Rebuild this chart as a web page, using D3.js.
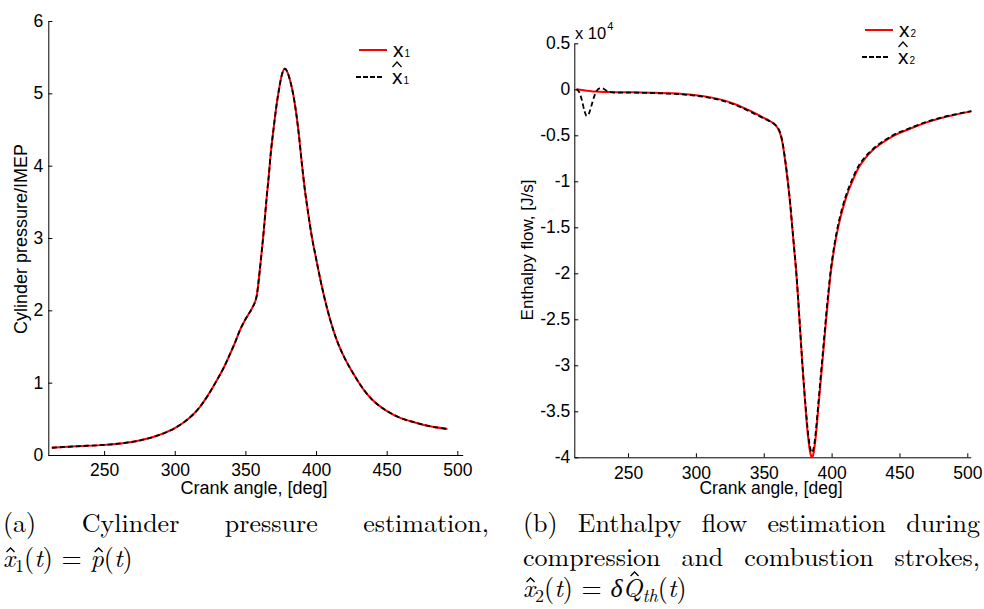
<!DOCTYPE html>
<html><head><meta charset="utf-8">
<script src="https://cdn.jsdelivr.net/npm/d3@7"></script>
<style>
body{margin:0;background:#fff}
svg text{font-family:Arial,"Liberation Sans",sans-serif;fill:#000}
.cap{font-family:"Latin Modern Roman","CMU Serif","Liberation Serif","DejaVu Serif",serif;font-size:26px}
</style>
</head><body>
<svg id="c" width="984" height="609"></svg>
<script>
// ---------- data: (a) cylinder pressure / IMEP ----------
const anglesA = [213,230,250,262,275,288,300,307,313,318,323,330,335,339,343,346,349,352,355,358,360,361.5,363,365,366.5,368,370,372,374,376,378,380,382,384,386,388,390,392,394,397,400,403,406,410,415,420,425,430,435,440,450,460,470,480,493];
const x1True = [0.10,0.12,0.14,0.16,0.20,0.27,0.37,0.46,0.56,0.67,0.81,1.04,1.22,1.39,1.57,1.72,1.84,1.94,2.04,2.20,2.52,2.80,3.10,3.55,3.85,4.18,4.52,4.83,5.08,5.27,5.34,5.28,5.15,4.97,4.72,4.40,4.02,3.68,3.40,3.02,2.72,2.43,2.17,1.87,1.57,1.35,1.17,1.01,0.87,0.76,0.61,0.51,0.45,0.40,0.36];
const x1Est  = [0.10,0.12,0.14,0.16,0.20,0.27,0.37,0.46,0.56,0.67,0.81,1.04,1.22,1.39,1.57,1.72,1.84,1.94,2.04,2.20,2.52,2.80,3.10,3.55,3.85,4.18,4.52,4.83,5.08,5.27,5.34,5.28,5.15,4.97,4.72,4.40,4.02,3.68,3.40,3.02,2.72,2.43,2.17,1.87,1.57,1.35,1.17,1.01,0.87,0.76,0.61,0.51,0.45,0.40,0.36];
const xTicksA = [250,300,350,400,450,500];
const yTicksA = [0,1,2,3,4,5,6];

// ---------- data: (b) enthalpy flow (x 1e4 J/s) ----------
const anglesB = [212,216,220,226,232,240,250,260,270,280,290,300,310,320,330,340,345,350,355,358,360,361,362.5,364,366,367.7,369.5,371,372.5,374,375.2,376.3,377.4,378.5,379.8,381,382,383,384,385,385.6,386.3,387,388,389,390,391.5,393,394.5,396,397.7,399.4,401,402.5,405,407.5,410,412.5,415,420,425,430,435,440,447,455,460,470,480,490,503];
const x2True = [0,-0.008,-0.015,-0.025,-0.03,-0.031,-0.032,-0.034,-0.038,-0.043,-0.05,-0.064,-0.085,-0.118,-0.168,-0.235,-0.27,-0.31,-0.35,-0.38,-0.415,-0.44,-0.5,-0.6,-0.8,-1.0,-1.25,-1.5,-1.75,-2.0,-2.25,-2.5,-2.75,-3.0,-3.27,-3.5,-3.68,-3.82,-3.93,-3.99,-4.0,-3.98,-3.93,-3.82,-3.67,-3.5,-3.25,-3.0,-2.75,-2.5,-2.23,-1.99,-1.82,-1.68,-1.49,-1.34,-1.21,-1.10,-1.01,-0.85,-0.745,-0.665,-0.605,-0.555,-0.495,-0.445,-0.415,-0.36,-0.315,-0.28,-0.24];
const anglesBEst = [212,214,216,218,219.5,221,223,225,227,229,231,233,236,240,250,260,270,280,290,300,310,320,330,340,345,350,355,358,360,361,362.5,364,366,367.7,369.5,371,372.5,374,375.2,376.3,377.4,378.5,379.8,381,382,383,384,385,385.6,386.3,387,388,389,390,391.5,393,394.5,396,397.7,399.4,401,402.5,405,407.5,410,412.5,415,420,425,430,435,440,447,455,460,470,480,490,503];
const x2Est = [0,-0.03,-0.12,-0.24,-0.29,-0.27,-0.18,-0.08,-0.015,0.01,0.012,-0.005,-0.03,-0.035,-0.036,-0.038,-0.042,-0.048,-0.056,-0.07,-0.092,-0.126,-0.176,-0.243,-0.28,-0.315,-0.352,-0.38,-0.41,-0.435,-0.49,-0.59,-0.79,-0.99,-1.24,-1.49,-1.74,-1.99,-2.24,-2.49,-2.74,-2.99,-3.25,-3.47,-3.64,-3.78,-3.88,-3.94,-3.95,-3.93,-3.88,-3.77,-3.62,-3.45,-3.2,-2.95,-2.7,-2.45,-2.19,-1.96,-1.79,-1.65,-1.46,-1.31,-1.18,-1.075,-0.985,-0.83,-0.73,-0.655,-0.595,-0.545,-0.485,-0.438,-0.408,-0.354,-0.31,-0.276,-0.238];
const xTicksB = [250,300,350,400,450,500];
const yTicksB = [-4,-3.5,-3,-2.5,-2,-1.5,-1,-0.5,0,0.5];

const svg = d3.select("#c");

function panel(o){
  const x = d3.scaleLinear().domain(o.xd).range(o.xr);
  const y = d3.scaleLinear().domain(o.yd).range(o.yr);
  const gx = svg.append("g").attr("transform",`translate(0,${o.yr[0]})`)
    .call(d3.axisBottom(x).tickValues(o.xt).tickSizeInner(-4).tickSizeOuter(0).tickPadding(9).tickFormat(d=>String(d)));
  const gy = svg.append("g").attr("transform",`translate(${o.xr[0]},0)`)
    .call(d3.axisLeft(y).tickValues(o.yt).tickSizeInner(-4).tickSizeOuter(0).tickPadding(o.yp).tickFormat(d=>String(d)));
  [gx,gy].forEach(g=>{
    g.selectAll("text").attr("font-size",o.fs).attr("font-family","Arial, 'Liberation Sans', sans-serif").attr("fill","#000");
    g.selectAll("path,line").attr("stroke","#000").attr("stroke-width",1);
  });
  const line = d3.line().x(d=>x(d[0])).y(d=>y(d[1])).curve(d3.curveMonotoneX);
  svg.append("path").datum(d3.zip(o.a1,o.s1)).attr("d",line)
    .attr("fill","none").attr("stroke","#ff0000").attr("stroke-width",2);
  svg.append("path").datum(d3.zip(o.a2,o.s2)).attr("d",line)
    .attr("fill","none").attr("stroke","#000").attr("stroke-width",1.8).attr("stroke-dasharray","5,3");
  return {x,y};
}

panel({xd:[210.5,503.8], xr:[48.3,462.7], yd:[0,6], yr:[455,21], xt:xTicksA, yt:yTicksA, fs:17.5, yp:5,
  a1:anglesA, s1:x1True, a2:anglesA, s2:x1Est});
panel({xd:[210.4,502.5], xr:[574.3,970.7], yd:[-4,0.5], yr:[457.3,43.3], xt:xTicksB, yt:yTicksB, fs:17.5, yp:4,
  a1:anglesB, s1:x2True, a2:anglesBEst, s2:x2Est});

// axis titles
svg.append("text").attr("x",254).attr("y",494).attr("text-anchor","middle").attr("font-size",18).text("Crank angle, [deg]");
svg.append("text").attr("x",771).attr("y",494).attr("text-anchor","middle").attr("font-size",17.5).text("Crank angle, [deg]");
svg.append("text").attr("transform","translate(26.5,239) rotate(-90)").attr("text-anchor","middle").attr("font-size",18).text("Cylinder pressure/IMEP");
svg.append("text").attr("transform","translate(533,250) rotate(-90)").attr("text-anchor","middle").attr("font-size",17).text("Enthalpy flow, [J/s]");
const ex = svg.append("text").attr("x",575).attr("y",39).attr("font-size",16.5);
ex.append("tspan").text("x 10");
ex.append("tspan").attr("font-size",11).attr("dy",-9).attr("dx",1).text("4");

// legends
function legend(lx, ly, sub){
  svg.append("line").attr("x1",lx).attr("x2",lx+28).attr("y1",ly).attr("y2",ly).attr("stroke","#ff0000").attr("stroke-width",2);
  const t1 = svg.append("text").attr("x",lx+34).attr("y",ly+7).attr("font-size",21);
  t1.append("tspan").text("x");
  t1.append("tspan").attr("font-size",10).attr("dx",1).text(sub);
  const ly2 = ly+27;
  svg.append("line").attr("x1",lx-3).attr("x2",lx+24).attr("y1",ly2).attr("y2",ly2).attr("stroke","#000").attr("stroke-width",1.8).attr("stroke-dasharray","5,2");
  const t2 = svg.append("text").attr("x",lx+33).attr("y",ly2+7).attr("font-size",21);
  t2.append("tspan").text("x");
  t2.append("tspan").attr("font-size",10).attr("dx",1).text(sub);
  const hx = lx+33;
  svg.append("path").attr("d",`M${hx+0.5},${ly2-10} L${hx+5},${ly2-15} L${hx+9.5},${ly2-10}`).attr("fill","none").attr("stroke","#000").attr("stroke-width",1.2);
}
legend(359,50,"1");
legend(865,30,"2");

// captions
function justify(words, x0, x1, y){
  const els = words.map(w=>svg.append("text").attr("class","cap").attr("y",y).text(w));
  const widths = els.map(e=>e.node().getComputedTextLength());
  const gap = (x1-x0-d3.sum(widths))/(words.length-1);
  let cx = x0;
  els.forEach((e,i)=>{ e.attr("x",cx); cx += widths[i]+gap; });
}
justify(["(a)","Cylinder","pressure","estimation,"],3,489,532);
justify(["(b)","Enthalpy","flow","estimation","during"],523,980,532);
justify(["compression","and","combustion","strokes,"],523,980,566);

// hats drawn as small chevrons above glyphs (h: apex height above baseline)
function mathLine(x, y, parts){
  const t = svg.append("text").attr("class","cap").attr("x",x).attr("y",y);
  let idx = 0; const hats = [];
  parts.forEach(p=>{
    const s = t.append("tspan").text(p.t);
    if(p.i) s.attr("font-style","italic");
    if(p.sub) s.attr("font-size",18).attr("dy",5);
    if(p.up) s.attr("dy",-5);
    if(p.hat !== undefined) hats.push({ci: idx + p.hat, h: p.h, dx: p.dx||0});
    idx += p.t.length;
  });
  hats.forEach(hh=>{
    const e = t.node().getExtentOfChar(hh.ci);
    const cx = e.x + e.width/2 + hh.dx;
    svg.append("path").attr("d",`M${cx-4},${y-hh.h+4} L${cx},${y-hh.h} L${cx+4},${y-hh.h+4}`)
      .attr("fill","none").attr("stroke","#000").attr("stroke-width",1.3);
  });
}
mathLine(3,567,[{t:"x",i:1,hat:0,h:19,dx:1.5},{t:"1",sub:1},{t:"(",up:1},{t:"t",i:1},{t:") = "},{t:"p",i:1,hat:0,h:19,dx:1.5},{t:"("},{t:"t",i:1},{t:")"}]);
mathLine(523,597,[{t:"x",i:1,hat:0,h:19,dx:1.5},{t:"2",sub:1},{t:"(",up:1},{t:"t",i:1},{t:") = "},{t:"\u03B4Q",i:1,hat:1,h:25,dx:2},{t:"th",i:1,sub:1},{t:"(",up:1},{t:"t",i:1},{t:")"}]);
</script>
</body></html>
